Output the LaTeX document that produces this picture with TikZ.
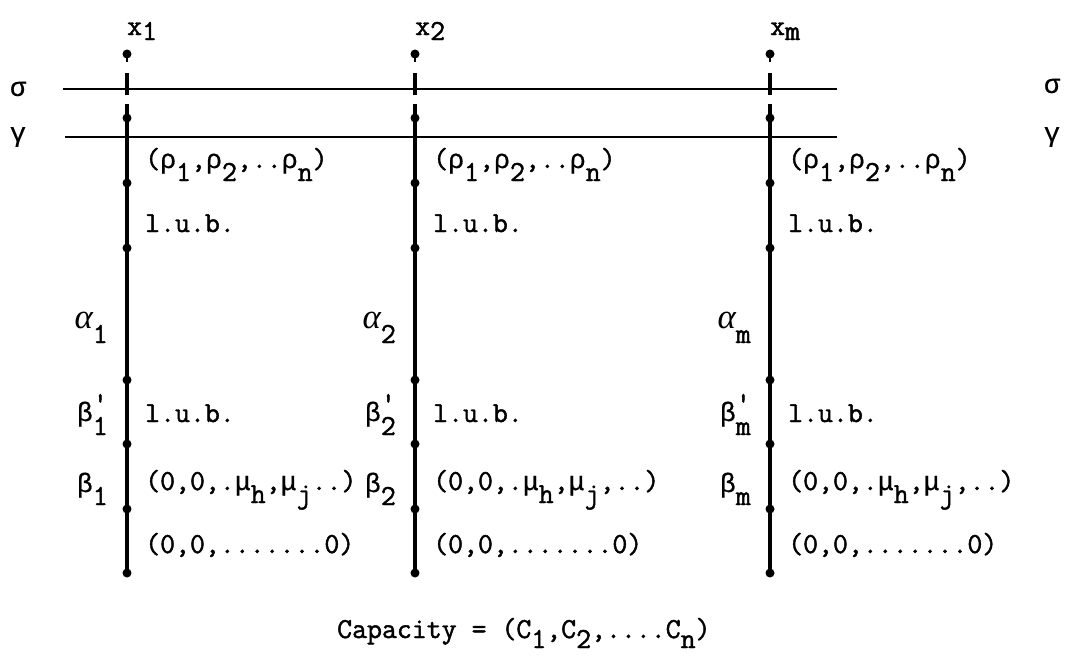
\documentclass[tikz,border=0pt]{standalone}
\usepackage{fontspec}
\newfontfamily\tw{Latin Modern Mono}[FakeBold=1.6]
\newfontfamily\grk{Liberation Mono}[Scale=0.92,FakeBold=0.6]
\newfontfamily\grki{Liberation Serif}[Scale=1.2]
\newcommand\gk[1]{{\grk #1}}
\newcommand\alp{{\grki\itshape α}}
\newcommand\dn[1]{\raisebox{-13pt}{#1}}
\newcommand\dnx[1]{\raisebox{-5pt}{#1}}
\begin{document}
\begin{tikzpicture}[x=1pt,y=-1pt,
  txt/.style={font=\fontsize{29}{32}\selectfont\tw, inner sep=0pt, anchor=base west},
  lft/.style={txt, anchor=base east},
  mid/.style={font=\fontsize{29}{32}\selectfont\tw, inner sep=0pt, anchor=center},
  bar/.style={line width=4pt},
  rule/.style={line width=1.6pt},
  dotc/.style={fill, circle, inner sep=0pt, minimum size=9pt},
  topdot/.style={fill, circle, inner sep=0pt, minimum size=9pt}]
\useasboundingbox (0,0) rectangle (1072,662);

% horizontal rules
\coordinate (sL) at (63,89);  \coordinate (sR) at (837,89);
\coordinate (gL) at (65,137); \coordinate (gR) at (837,137);
\draw[rule] (sL) -- (sR);
\draw[rule] (gL) -- (gR);
\node[mid] (sigmaL) at (18,89) {\gk{σ}};
\node[mid] (gammaL) at (18,137) {\gk{γ}};
\node[mid] (sigmaR) at (1052,86) {\gk{σ}};
\node[mid] (gammaR) at (1052,137) {\gk{γ}};

\foreach \c/\X/\s in {1/127/1, 2/415/2, 3/770/m} {
  % column label
  \node[txt] (x\c) at (\X,35) {x\dnx{\s}};
  % top dot with tail
  \node[topdot] (t\c) at (\X,54) {};
  \coordinate (tt\c) at (\X,62);
  \draw[line width=2.5pt] (t\c.center) -- (tt\c);
  % short dash crossing sigma
  \coordinate (da\c) at (\X,73);
  \coordinate (db\c) at (\X,95);
  \draw[bar] (da\c) -- (db\c);
  % main bar
  \coordinate (s\c) at (\X,104);
  \node[dotc] (d\c a) at (\X,118) {};
  \node[dotc] (d\c b) at (\X,183) {};
  \node[dotc] (d\c c) at (\X,248) {};
  \node[dotc] (d\c d) at (\X,380) {};
  \node[dotc] (d\c e) at (\X,444) {};
  \node[dotc] (d\c f) at (\X,509) {};
  \node[dotc] (d\c g) at (\X,573) {};
  \draw[bar] (s\c) -- (d\c a.center) -- (d\c b.center) -- (d\c c.center) -- (d\c d.center)
        -- (d\c e.center) -- (d\c f.center) -- (d\c g.center);
  % right-hand texts
  \node[txt] (rho\c) at (\X+18,168) {(\gk{ρ}\dn{1},\gk{ρ}\dn{2},..\gk{ρ}\dn{n})};
  \node[txt] (luba\c) at (\X+18,232) {l.u.b.};
  \node[txt] (lubb\c) at (\X+18,422) {l.u.b.};
  \node[txt] (zero\c) at (\X+18,553) {(0,0,.......0)};
  % left-hand labels
  \node[lft] (al\c) at (\X-19,328) {\alp\raisebox{-15pt}{\s}};
  \node[lft] (bp\c) at (\X-19,421) {\gk{β}\rlap{\raisebox{9pt}{'}}\raisebox{-14pt}{\s}};
  \node[lft] (b\c) at (\X-19,492) {\gk{β}\dn{\s}};
}
\node[txt] (mu1) at (145,490) {(0,0,.\gk{μ}\dn{h},\gk{μ}\dn{j}..)};
\node[txt] (mu2) at (433,490) {(0,0,.\gk{μ}\dn{h},\gk{μ}\dn{j},..)};
\node[txt] (mu3) at (788,490) {(0,0,.\gk{μ}\dn{h},\gk{μ}\dn{j},..)};

\node[txt] (cap) at (337,638) {Capacity = (C\raisebox{-10pt}{1},C\raisebox{-10pt}{2},....C\raisebox{-10pt}{n})};
\end{tikzpicture}
\end{document}
